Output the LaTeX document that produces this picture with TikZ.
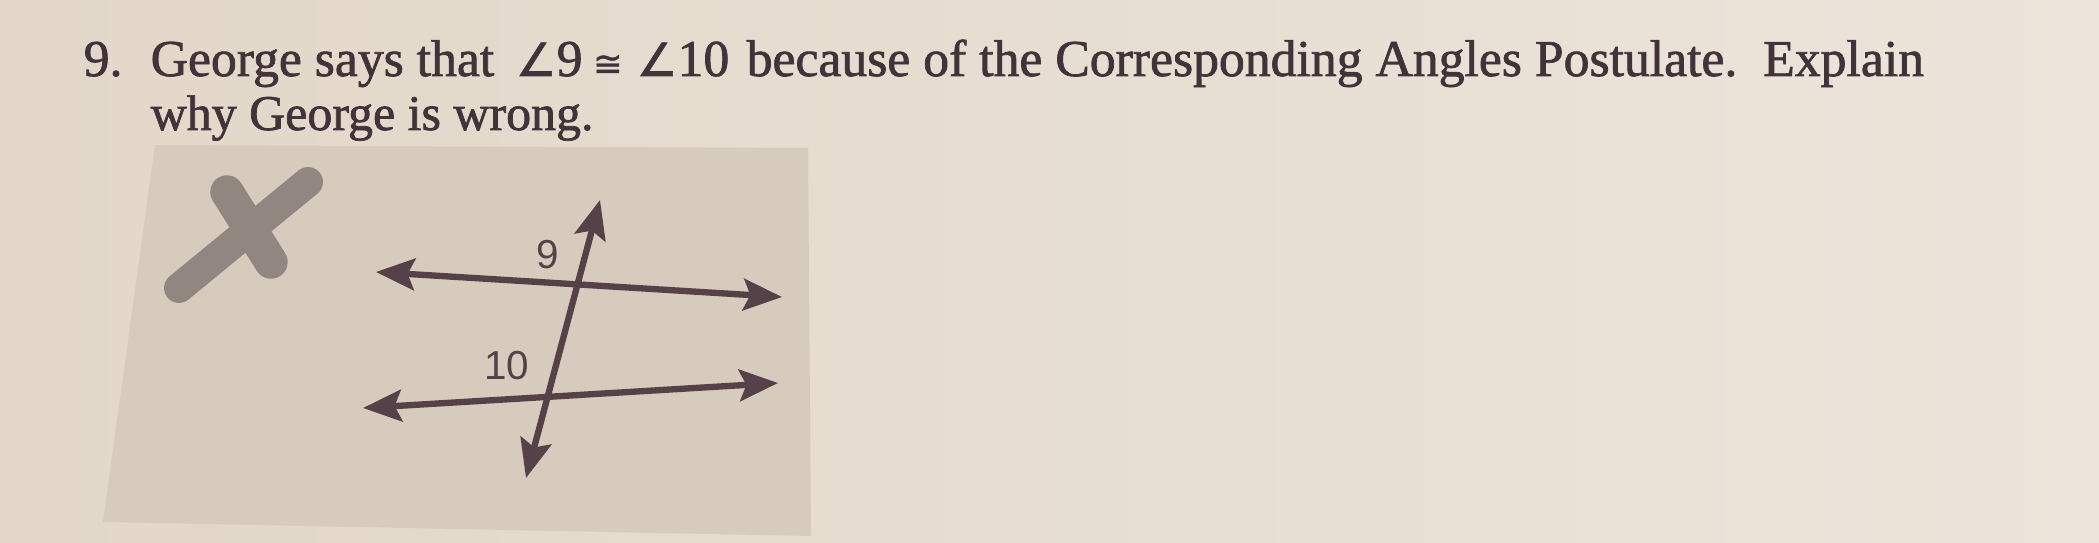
\documentclass[tikz,border=0pt]{standalone}
\usepackage{fontspec}
\setmainfont{Liberation Serif}[FakeBold=1.4]
\newfontfamily\lblfont{Liberation Sans}
\newfontfamily\symfont{DejaVu Sans}[FakeBold=1.2]
\usetikzlibrary{arrows.meta}
\definecolor{paperl}{RGB}{226,215,200}
\definecolor{paperr}{RGB}{236,229,219}
\definecolor{boxc}{RGB}{214,203,189}
\definecolor{ink}{RGB}{66,50,58}
\definecolor{linec}{RGB}{84,66,72}
\definecolor{xmark}{RGB}{146,134,128}
\tikzset{
  qtext/.style={anchor=base west, inner sep=0pt, text=ink, font=\fontsize{14.7}{16}\selectfont},
  qtextb/.style={anchor=base west, inner sep=0pt, text=ink, font=\fontsize{14.2}{16}\selectfont},
  lbl/.style={inner sep=0pt, text=linec, font=\lblfont\fontsize{11.5}{13}\selectfont},
  geoline/.style={draw=linec, line width=1.8pt, {Stealth[length=11pt,width=9pt,inset=2pt]}-{Stealth[length=11pt,width=9pt,inset=2pt]}},
  xstroke/.style={draw=xmark, line cap=round}
}
\begin{document}
\begin{tikzpicture}[x=0.01cm,y=-0.01cm]
\useasboundingbox (0,0) rectangle (2099,543);
\shade[left color=paperl, right color=paperr] (0,0) rectangle (2099,543);
% gray panel
\fill[boxc] (155,145) -- (808,148) -- (811,536) -- (103,522) -- cycle;
% question text
\node[qtext] (num) at (83,76) {9.};
\node[qtext] (part1) at (150,76) {George says that};
\node[qtext] (part2) at (515,76) {{\symfont\fontsize{13}{16}\selectfont ∠}9\hspace{3pt}{\symfont\fontsize{10}{16}\selectfont ≅}\hspace{4pt}{\symfont\fontsize{13}{16}\selectfont ∠}10};
\node[qtext] (part3) at (746,76) {because of the Corresponding Angles Postulate.\ \ Explain};
\node[qtextb] (line2) at (150,130) {why George is wrong.};
% X mark
\coordinate (xa1) at (179,288);
\coordinate (xa2) at (308,182);
\coordinate (xb1) at (227,192);
\coordinate (xb2) at (271,262);
\draw[xstroke, line width=8.5pt] (xa1) -- (xa2);
\draw[xstroke, line width=9.5pt] (xb1) -- (xb2);
% figure
\coordinate (t1) at (376,272);
\coordinate (t2) at (782,297);
\coordinate (b1) at (363,408);
\coordinate (b2) at (778,383);
\coordinate (v1) at (600,200);
\coordinate (v2) at (526,478);
\draw[geoline] (t1) -- (t2);
\draw[geoline] (b1) -- (b2);
\draw[geoline] (v1) -- (v2);
\node[lbl] (nine) at (548,255) {9};
\node[lbl] (ten) at (507,366) {10};
\end{tikzpicture}
\end{document}
